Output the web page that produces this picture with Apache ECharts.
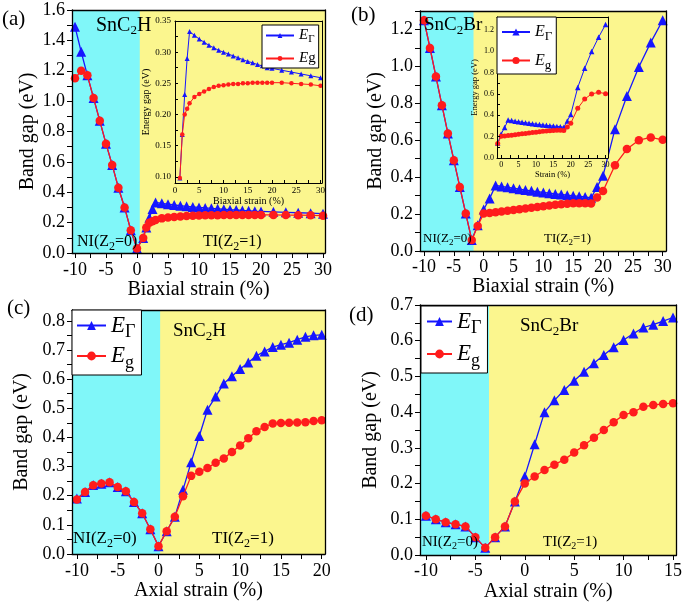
<!DOCTYPE html>
<html><head><meta charset="utf-8">
<script src="https://cdn.jsdelivr.net/npm/echarts@6/dist/echarts.min.js"></script>
<style>html,body{margin:0;padding:0;background:#fff}#c{width:685px;height:604px}</style>
</head><body><div id="c"></div>
<script>
// ---------------- data ----------------
// (a) SnC2H, biaxial strain
const aStrain = [-10,-9,-8,-7,-6,-5,-4,-3,-2,-1,0,1,1.5,2,2.5,3,4,5,6,7,8,9,10,11,12,13,14,15,16,17,18,19,20,22,24,26,28,30];
const aEGamma = [1.49,1.325,1.17,1.02,0.87,0.72,0.58,0.43,0.30,0.15,0.03,0.098,0.168,0.232,0.290,0.333,0.327,0.321,0.316,0.311,0.307,0.303,0.300,0.297,0.294,0.291,0.288,0.285,0.283,0.280,0.278,0.275,0.274,0.271,0.268,0.265,0.262,0.259];
const aEg = [1.15,1.20,1.17,1.02,0.87,0.72,0.58,0.43,0.30,0.15,0.03,0.098,0.168,0.200,0.209,0.218,0.228,0.233,0.237,0.241,0.244,0.246,0.247,0.248,0.249,0.249,0.250,0.250,0.251,0.251,0.251,0.251,0.251,0.251,0.250,0.249,0.248,0.246];
const aInsetFrom = 11; // inset shows strain >= 1
// (b) SnC2Br, biaxial strain
const bStrain = [-10,-9,-8,-7,-6,-5,-4,-3,-2,-1,0,1,2,3,4,5,6,7,8,9,10,11,12,13,14,15,16,17,18,19,20,22,24,26,28,30];
const bEGamma = [1.25,1.10,0.945,0.79,0.637,0.492,0.347,0.203,0.06,0.14,0.225,0.285,0.355,0.35,0.345,0.34,0.335,0.33,0.326,0.321,0.317,0.313,0.309,0.306,0.302,0.299,0.296,0.293,0.288,0.347,0.408,0.66,0.84,0.997,1.13,1.25];
const bEg = [1.25,1.10,0.945,0.79,0.637,0.492,0.347,0.203,0.06,0.135,0.203,0.206,0.21,0.214,0.218,0.222,0.226,0.23,0.234,0.238,0.242,0.246,0.25,0.253,0.256,0.258,0.259,0.259,0.257,0.29,0.325,0.465,0.552,0.6,0.615,0.602];
const bInsetFrom = 9; // inset shows strain >= -1
// (c) SnC2H, axial strain
const cStrain = [-10,-9,-8,-7,-6,-5,-4,-3,-2,-1,0,1,2,3,4,5,6,7,8,9,10,11,12,13,14,15,16,17,18,19,20];
const cEGamma = [0.19,0.213,0.237,0.241,0.246,0.23,0.215,0.178,0.14,0.085,0.027,0.078,0.128,0.22,0.315,0.405,0.495,0.54,0.585,0.61,0.635,0.657,0.68,0.695,0.71,0.718,0.725,0.735,0.745,0.75,0.752];
const cEg = [0.187,0.213,0.236,0.242,0.246,0.23,0.215,0.178,0.14,0.085,0.027,0.078,0.128,0.198,0.268,0.282,0.295,0.313,0.328,0.35,0.372,0.397,0.421,0.436,0.448,0.449,0.450,0.451,0.452,0.456,0.459];
// (d) SnC2Br, axial strain
const dStrain = [-10,-9,-8,-7,-6,-5,-4,-3,-2,-1,0,1,2,3,4,5,6,7,8,9,10,11,12,13,14,15];
const dEGamma = [0.11,0.10,0.092,0.086,0.08,0.05,0.02,0.05,0.08,0.15,0.22,0.31,0.40,0.433,0.462,0.488,0.513,0.537,0.56,0.582,0.602,0.62,0.637,0.645,0.655,0.665];
const dEg = [0.11,0.10,0.092,0.086,0.08,0.05,0.02,0.05,0.08,0.15,0.20,0.22,0.238,0.253,0.267,0.287,0.307,0.328,0.35,0.372,0.392,0.40,0.415,0.42,0.423,0.425];

// tick labels
const biaxialXLabels = [-10,-5,0,5,10,15,20,25,30];
const cXLabels = [-10,-5,0,5,10,15,20];
const dXLabels = [-10,-5,0,5,10,15];
const insetXLabels = [0,5,10,15,20,25,30];
const aYLabels = [0,0.2,0.4,0.6,0.8,1.0,1.2,1.4,1.6];
const bYLabels = [0,0.2,0.4,0.6,0.8,1.0,1.2];
const cYLabels = [0,0.1,0.2,0.3,0.4,0.5,0.6,0.7,0.8];
const dYLabels = [0,0.1,0.2,0.3,0.4,0.5,0.6,0.7];
const aInsetYLabels = [0.10,0.15,0.20,0.25,0.30,0.35];
const bInsetYLabels = [0,0.2,0.4,0.6,0.8,1.0,1.2];

// boundaries NI / TI
const aBoundary = 0.45, bBoundary = -1.7, cBoundary = 0.2, dBoundary = -3.62;

// ---------------- styling / building ----------------
const SERIF = "'Liberation Serif', 'Times New Roman', serif";
const BLUE = '#1616ff', RED = '#ff1c1c', CYAN = '#80f7f9', YELLOW = '#fbf68e';

function seq(a, b, s) { const r = []; for (let i = 0; a + i * s <= b + 1e-9; i++) r.push(+(a + i * s).toFixed(4)); return r; }
function pairs(xs, ys) { return xs.map((x, i) => [x, ys[i]]); }

const option = { animation: false, backgroundColor: '#fff', grid: [], xAxis: [], yAxis: [], series: [], legend: [], title: [] };

function addPanel(p) {
  const gi = option.grid.length;
  const zl = p.zl || 0;
  option.grid.push({ left: p.g[0], top: p.g[1], width: p.g[2], height: p.g[3], show: true, backgroundColor: YELLOW, borderWidth: 0, zlevel: zl });
  const xi = option.xAxis.length, yi = option.yAxis.length;
  const axLine = { show: true, onZero: false, lineStyle: { color: '#000', width: p.lw } };
  const nameStyle = { color: '#000', fontFamily: SERIF, fontSize: p.ns };
  option.xAxis.push({ type: 'value', gridIndex: gi, min: p.x[0], max: p.x[1], position: 'bottom', z: 10, zlevel: zl,
    axisLine: axLine,
    axisTick: { show: true, inside: p.inTick, length: p.tl, customValues: p.xt, lineStyle: { color: '#000', width: 1 } },
    axisLabel: { customValues: p.xl, margin: p.xm, color: '#000', fontFamily: SERIF, fontSize: p.fs, formatter: v => String(v) },
    splitLine: { show: false }, name: p.xn, nameLocation: 'middle', nameGap: p.xg, nameTextStyle: nameStyle });
  option.xAxis.push({ type: 'value', gridIndex: gi, min: p.x[0], max: p.x[1], position: 'top', z: 10, zlevel: zl,
    axisLine: axLine, axisTick: { show: false }, axisLabel: { show: false }, splitLine: { show: false } });
  option.yAxis.push({ type: 'value', gridIndex: gi, min: p.y[0], max: p.y[1], position: 'left', z: 10, zlevel: zl,
    axisLine: axLine,
    axisTick: { show: true, inside: p.inTick, length: p.tl, customValues: p.yt, lineStyle: { color: '#000', width: 1 } },
    axisLabel: { customValues: p.yl, margin: p.ym, color: '#000', fontFamily: SERIF, fontSize: p.fs, formatter: v => v.toFixed(p.yd) },
    splitLine: { show: false }, name: p.yn, nameLocation: 'middle', nameGap: p.yg, nameTextStyle: nameStyle });
  option.yAxis.push({ type: 'value', gridIndex: gi, min: p.y[0], max: p.y[1], position: 'right', z: 10, zlevel: zl,
    axisLine: axLine, axisTick: { show: false }, axisLabel: { show: false }, splitLine: { show: false } });
  const blue = { type: 'line', name: 'EΓ', xAxisIndex: xi, yAxisIndex: yi, zlevel: zl, z: 3,
    data: pairs(p.sx, p.eG), symbol: 'triangle', symbolSize: p.ts,
    lineStyle: { color: BLUE, width: p.slw }, itemStyle: { color: BLUE } };
  if (p.boundary !== undefined) {
    blue.markArea = { silent: true, itemStyle: { color: CYAN, opacity: 1 }, data: [[{ xAxis: p.x[0] }, { xAxis: p.boundary }]] };
  }
  option.series.push(blue);
  option.series.push({ type: 'line', name: 'Eg', xAxisIndex: xi, yAxisIndex: yi, zlevel: zl, z: 4,
    data: pairs(p.sx, p.eg), symbol: 'circle', symbolSize: p.cs,
    lineStyle: { color: RED, width: p.slw }, itemStyle: { color: RED } });
}

const mainCommon = { lw: 1.3, fs: 18, ns: 20, inTick: false, tl: 5, slw: 1.3, ts: 10, cs: 8.5, ym: 7 };

addPanel(Object.assign({}, mainCommon, { g: [72, 10, 253, 243], x: [-10.48, 30.32], y: [0, 1.6],
  xl: biaxialXLabels, xt: seq(-10, 30, 2.5), yl: aYLabels, yt: seq(0, 1.6, 0.1), yd: 1,
  xn: 'Biaxial strain (%)', xg: 26, xm: 8, yn: 'Band gap (eV)', yg: 34,
  sx: aStrain, eG: aEGamma, eg: aEg, boundary: aBoundary }));
addPanel(Object.assign({}, mainCommon, { g: [420, 11, 246, 240], x: [-10.67, 30.55], y: [0, 1.3],
  xl: biaxialXLabels, xt: seq(-10, 30, 2.5), yl: bYLabels, yt: seq(0, 1.3, 0.1), yd: 1,
  xn: 'Biaxial strain (%)', xg: 25, xm: 7, yn: 'Band gap (eV)', yg: 34,
  sx: bStrain, eG: bEGamma, eg: bEg, boundary: bBoundary }));
addPanel(Object.assign({}, mainCommon, { g: [72, 310, 253, 244], x: [-10.6, 20.4], y: [0, 0.837],
  xl: cXLabels, xt: seq(-10, 20, 2.5), yl: cYLabels, yt: seq(0, 0.8, 0.05), yd: 1,
  xn: 'Axial strain (%)', xg: 25, xm: 8, yn: 'Band gap (eV)', yg: 40,
  sx: cStrain, eG: cEGamma, eg: cEg, boundary: cBoundary }));
addPanel(Object.assign({}, mainCommon, { g: [420, 305, 260, 250], x: [-10.6, 15.35], y: [0, 0.7],
  xl: dXLabels, xt: seq(-10, 15, 2.5), yl: dYLabels, yt: seq(0, 0.7, 0.05), yd: 1,
  xn: 'Axial strain (%)', xg: 27, xm: 7, yn: 'Band gap (eV)', yg: 39,
  sx: dStrain, eG: dEGamma, eg: dEg, boundary: dBoundary }));
// insets
addPanel({ zl: 1, lw: 1, fs: 9, ns: 10, inTick: true, tl: 3, slw: 1, ts: 5, cs: 4.5,
  g: [175, 21, 147, 162], x: [0, 30.3], y: [0.09, 0.35],
  xl: insetXLabels, xt: seq(0, 30, 2.5), yl: aInsetYLabels, yt: seq(0.1, 0.35, 0.025), yd: 2,
  xn: 'Biaxial strain (%)', xg: 12, xm: 3, yn: 'Energy gap (eV)', yg: 23, ym: 4,
  sx: aStrain.slice(aInsetFrom), eG: aEGamma.slice(aInsetFrom), eg: aEg.slice(aInsetFrom) });
addPanel({ zl: 1, lw: 1, fs: 8, ns: 8.5, inTick: true, tl: 3, slw: 1, ts: 5.5, cs: 5,
  g: [497, 17, 111, 141], x: [-1.2, 30.7], y: [0, 1.32],
  xl: insetXLabels, xt: seq(0, 30, 2.5), yl: bInsetYLabels, yt: seq(0, 1.3, 0.1), yd: 1,
  xn: 'Strain (%)', xg: 10, xm: 3, yn: 'Energy gap (eV)', yg: 18, ym: 3,
  sx: bStrain.slice(bInsetFrom), eG: bEGamma.slice(bInsetFrom), eg: bEg.slice(bInsetFrom) });

// legends
function legend(left, top, e, s, pad, itemGap, itemWidth, itemHeight, subG, zl) {
  return { left, top, orient: 'vertical', zlevel: zl, z: 20, padding: pad, itemGap, itemWidth, itemHeight,
    backgroundColor: '#fff', borderColor: '#000', borderWidth: 1, borderRadius: 0, selectedMode: false,
    data: ['EΓ', 'Eg'],
    formatter: n => n === 'EΓ' ? '{e|E}{s|Γ}' : (subG ? '{e|E}{s|g}' : '{e|E}{n|g}'),
    textStyle: { fontFamily: SERIF, color: '#000', rich: {
      e: { fontFamily: SERIF, fontStyle: 'italic', fontSize: e, color: '#000' },
      n: { fontFamily: SERIF, fontSize: e, color: '#000' },
      s: { fontFamily: SERIF, fontSize: s, color: '#000', padding: [Math.round(s * 0.75), 0, 0, 0] } } } };
}
option.legend.push(legend(262, 25, 15, 11, [3, 3, 2, 3], 6, 28, 6, false, 1));
option.legend.push(legend(497, 17, 16, 13, [7, 4, 2, 4], 9, 28, 9, true, 1));
option.legend.push(legend(72, 310, 23, 18, [4, 6, 3, 4], 3, 29, 11, true, 0));
option.legend.push(legend(421, 306, 23, 18, [4, 6, 3, 5], 5, 25, 11, true, 0));

// text annotations
function txt(left, top, text, size, sub) {
  return { left, top, padding: 0, text, z: 8, textStyle: { fontFamily: SERIF, fontWeight: 'normal', fontSize: size, color: '#000',
    rich: { t: { fontFamily: SERIF, fontSize: size, color: '#000' },
            s: { fontFamily: SERIF, fontSize: sub, color: '#000', padding: [Math.round(sub * 0.8), 0, 0, 0] } } } };
}
option.title.push(txt(2, 9, '(a)', 21, 14));
option.title.push(txt(351, 5, '(b)', 21, 14));
option.title.push(txt(7, 298, '(c)', 21, 14));
option.title.push(txt(349, 305, '(d)', 21, 14));
option.title.push(txt(96, 14, '{t|SnC}{s|2}{t|H}', 20, 13));
option.title.push(txt(424, 14, '{t|SnC}{s|2}{t|Br}', 19, 13));
option.title.push(txt(173, 320, '{t|SnC}{s|2}{t|H}', 19, 13));
option.title.push(txt(520, 315, '{t|SnC}{s|2}{t|Br}', 19, 13));
option.title.push(txt(77, 231, '{t|NI(Z}{s|2}{t|=0)}', 16, 12));
option.title.push(txt(203, 231, '{t|TI(Z}{s|2}{t|=1)}', 16, 12));
option.title.push(txt(423, 231, '{t|NI(Z}{s|2}{t|=0)}', 13, 9));
option.title.push(txt(544, 231, '{t|TI(Z}{s|2}{t|=1)}', 13, 9));
option.title.push(txt(73, 528, '{t|NI(Z}{s|2}{t|=0)}', 17, 12));
option.title.push(txt(212, 528, '{t|TI(Z}{s|2}{t|=1)}', 17, 12));
option.title.push(txt(422, 533, '{t|NI(Z}{s|2}{t|=0)}', 15, 10));
option.title.push(txt(543, 533, '{t|TI(Z}{s|2}{t|=1)}', 15, 10));

const chart = echarts.init(document.getElementById('c'), null, { renderer: 'canvas' });
chart.setOption(option);
</script></body></html>
